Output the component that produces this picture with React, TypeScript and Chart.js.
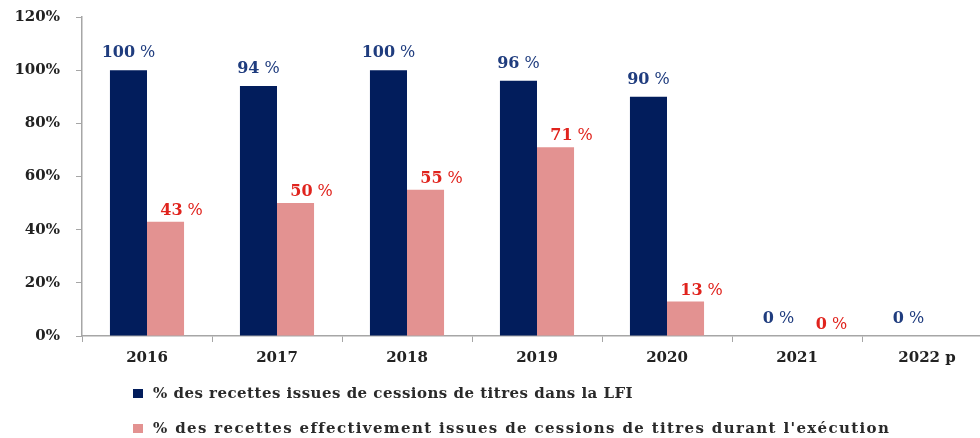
import React, { useEffect, useRef } from "react";
import { Chart, registerables } from "chart.js";

Chart.register(...registerables);

const categories = ["2016", "2017", "2018", "2019", "2020", "2021", "2022 p"];
const lfiShare = [100, 94, 100, 96, 90, 0, 0];
const executionShare: (number | null)[] = [43, 50, 55, 71, 13, 0, null];
const yTicks = [0, 20, 40, 60, 80, 100, 120];
const legendLabels = [
  "% des recettes issues de cessions de titres dans la LFI",
  "% des recettes effectivement issues de cessions de titres durant l'exécution",
];

const NAVY = "#021d5c";
const PINK = "#e39291";
const NAVY_TXT = "#1f3c7e";
const RED_TXT = "#e0231d";
const SERIF = "'DejaVu Serif', 'Liberation Serif', serif";

const labelPlugin = {
  id: "valueLabels",
  afterDatasetsDraw(chart: any) {
    const ctx = chart.ctx;
    const cfg = [
      { color: NAVY_TXT, dx: 0, dy: -17 },
      { color: RED_TXT, dx: 16, dy: -11 },
    ];
    chart.data.datasets.forEach((ds: any, di: number) => {
      const meta = chart.getDatasetMeta(di);
      meta.data.forEach((el: any, i: number) => {
        const v = ds.data[i];
        if (v === null || v === undefined) return;
        const c = cfg[di];
        ctx.save();
        ctx.fillStyle = c.color;
        ctx.textBaseline = "middle";
        const num = String(v);
        const pct = "%";
        const gap = 5;
        ctx.font = `bold 16px ${SERIF}`;
        const w1 = ctx.measureText(num).width;
        ctx.font = `16px ${SERIF}`;
        const w2 = ctx.measureText(pct).width;
        const x0 = el.x + c.dx - (w1 + gap + w2) / 2;
        const y = el.y + c.dy;
        ctx.textAlign = "left";
        ctx.font = `bold 16px ${SERIF}`;
        ctx.fillText(num, x0, y);
        ctx.font = `16px ${SERIF}`;
        ctx.fillText(pct, x0 + w1 + gap, y);
        ctx.restore();
      });
    });
  },
};

export default function App() {
  const ref = useRef<HTMLCanvasElement | null>(null);
  useEffect(() => {
    if (!ref.current) return;
    const chart = new Chart(ref.current, {
      type: "bar",
      data: {
        labels: categories,
        datasets: [
          {
            label: legendLabels[0],
            data: lfiShare,
            backgroundColor: NAVY,
            categoryPercentage: 0.57,
            barPercentage: 1,
          },
          {
            label: legendLabels[1],
            data: executionShare,
            backgroundColor: PINK,
            categoryPercentage: 0.57,
            barPercentage: 1,
          },
        ],
      },
      options: {
        responsive: false,
        animation: false,
        layout: { padding: { top: 17, right: 3, bottom: 62, left: 0 } },
        plugins: {
          legend: { display: false },
          tooltip: { enabled: false },
        },
        scales: {
          x: {
            grid: {
              offset: true,
              drawOnChartArea: false,
              drawTicks: true,
              tickLength: 6,
              color: "#a6a6a6",
            },
            border: { color: "#a6a6a6", width: 1.5 },
            ticks: {
              color: "#222",
              padding: 7,
              font: { family: SERIF, size: 15, weight: "bold" },
            },
            afterFit: (s: any) => {
              s.height = 40;
              s.paddingLeft = 0;
              s.paddingRight = 0;
            },
          },
          y: {
            min: 0,
            max: 120,
            afterBuildTicks: (s: any) => {
              s.ticks = yTicks.map((v) => ({ value: v }));
            },
            grid: {
              drawOnChartArea: false,
              drawTicks: true,
              tickLength: 6,
              color: "#a6a6a6",
            },
            border: { color: "#a6a6a6", width: 1.5 },
            ticks: {
              color: "#222",
              padding: 16,
              font: { family: SERIF, size: 15, weight: "bold" },
              callback: (v: any) => `${v}%`,
            },
            afterFit: (s: any) => {
              s.width = 82;
              s.paddingTop = 0;
              s.paddingBottom = 0;
            },
          },
        },
      },
      plugins: [labelPlugin],
    });
    return () => chart.destroy();
  }, []);

  const legendColors = [NAVY, PINK];
  const legendTops = [383, 418];
  const legendSpacing = [0.48, 1.35];

  return (
    <div
      style={{
        position: "fixed",
        left: 0,
        top: 0,
        width: 980,
        height: 438,
        overflow: "hidden",
        background: "#fff",
      }}
    >
      <canvas
        ref={ref}
        width={995}
        height={438}
        style={{ position: "absolute", left: 0, top: 0, width: 995, height: 438 }}
      />
      {legendLabels.map((t, i) => (
        <div
          key={i}
          style={{
            position: "absolute",
            left: 133,
            top: legendTops[i],
            height: 20,
            display: "flex",
            alignItems: "center",
            fontFamily: SERIF,
            fontSize: 15,
            fontWeight: "bold",
            letterSpacing: legendSpacing[i],
            color: "#2a2a2a",
            whiteSpace: "nowrap",
          }}
        >
          <span
            style={{
              display: "inline-block",
              width: 10,
              height: 9,
              background: legendColors[i],
              marginRight: 10,
            }}
          />
          <span>{t}</span>
        </div>
      ))}
    </div>
  );
}
